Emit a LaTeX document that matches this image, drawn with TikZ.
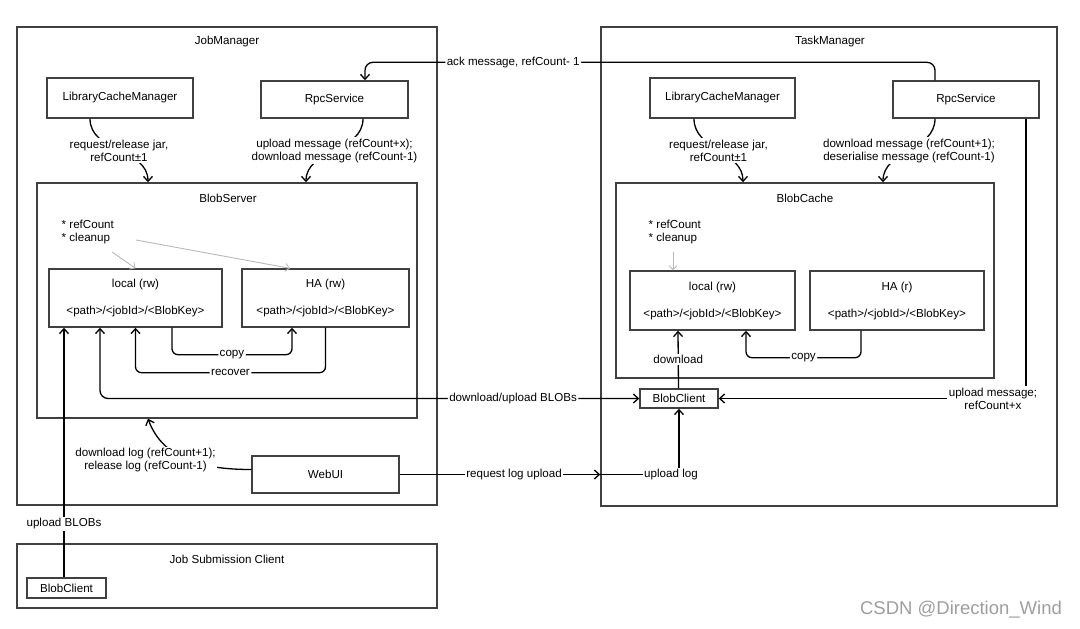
\documentclass[tikz,border=0pt]{standalone}
\usepackage{fontspec}
\setmainfont{Liberation Sans}
\usetikzlibrary{arrows.meta}
\definecolor{boxline}{rgb}{0.25,0.25,0.25}
\definecolor{hint}{rgb}{0.72,0.72,0.72}
\definecolor{wmark}{rgb}{0.62,0.62,0.62}
\newcommand{\lblfont}{\fontsize{11.6}{13}\selectfont}

\begin{document}
\begin{tikzpicture}[x=1pt, y=-1pt,
    >={Straight Barb[length=5pt,width=9pt]},
    box/.style={draw=boxline, line width=1.4pt, inner sep=0pt, align=center, font=\lblfont},
    txt/.style={font=\lblfont, align=center, inner sep=1.5pt},
    lbl/.style={txt, fill=white},
    conn/.style={line width=1.3pt, ->},
    hintarrow/.style={hint, line width=0.9pt, -{Straight Barb[length=4pt,width=8pt]}}] %blob
            \useasboundingbox (0,0) rectangle (1080,629);

            % containers
            \node[box, minimum width=420pt, minimum height=478pt] (jm) at (227,266) {};
            \node[txt] (jmtitle) at (227,42) {JobManager};
            \node[box, minimum width=456pt, minimum height=479pt] (tm) at (829,266.5) {};
            \node[txt] (tmtitle) at (830,42) {TaskManager};
            \node[box, minimum width=420pt, minimum height=64pt] (jsc) at (227,576) {};
            \node[txt] (jsctitle) at (227,559) {Job Submission Client};

            % JobManager
            \node[box, minimum width=146pt, minimum height=40pt] (jlcm) at (120,98) {LibraryCacheManager};
            \node[box, minimum width=147pt, minimum height=37pt] (jrpc) at (334.5,99.5) {RpcService};
            \node[box, minimum width=380pt, minimum height=235pt] (jblob) at (227,300.5) {};
            \node[txt] (jblobtitle) at (228,198) {BlobServer};
            \node[txt, anchor=west, align=left] (jref) at (60,232) {* refCount\\* cleanup};
            \node[box, minimum width=173pt, minimum height=58pt] (jlocal) at (135.5,298) {local (rw)\\[14pt]<path>/<jobId>/<BlobKey>};
            \node[box, minimum width=167pt, minimum height=58pt] (jha) at (325.5,298) {HA (rw)\\[14pt]<path>/<jobId>/<BlobKey>};
            \node[box, minimum width=147pt, minimum height=37pt] (jweb) at (325.5,474.5) {WebUI};

            % TaskManager
            \node[box, minimum width=145pt, minimum height=40pt] (tlcm) at (722.5,98) {LibraryCacheManager};
            \node[box, minimum width=146pt, minimum height=37pt] (trpc) at (966,99.5) {RpcService};
            \node[box, minimum width=378pt, minimum height=195pt] (tcache) at (805,280.5) {};
            \node[txt] (tcachetitle) at (805,198) {BlobCache};
            \node[txt, anchor=west, align=left] (tref) at (647,232) {* refCount\\* cleanup};
            \node[box, minimum width=165pt, minimum height=59pt] (tlocal) at (712.5,300.5) {local (rw)\\[14pt]<path>/<jobId>/<BlobKey>};
            \node[box, minimum width=174pt, minimum height=59pt] (tha) at (897,300.5) {HA (r)\\[14pt]<path>/<jobId>/<BlobKey>};
            \node[box, minimum width=78pt, minimum height=19pt] (tclient) at (679,398.5) {BlobClient};

            % Job Submission Client
            \node[box, minimum width=79pt, minimum height=20pt] (jsclient) at (66.5,588) {BlobClient};

            \node[font=\fontsize{18.5}{20}\selectfont, text=wmark, inner sep=0pt] (wm) at (961,610) {CSDN @Direction\_Wind};

            % calls
            \draw[conn] ([xshift=-30pt]jlcm.south) to[out=-90,in=90] node[lbl]{request/release jar,\\refCount±1} ([xshift=-79pt]jblob.north);
            \draw[conn] ([xshift=28.5pt]jrpc.south) to[out=-90,in=90] node[lbl]{upload message (refCount+x);\\download message (refCount-1)} ([xshift=79pt]jblob.north);
            \draw[conn] ([xshift=-28.5pt]tlcm.south) to[out=-90,in=90] node[lbl]{request/release jar,\\refCount±1} ([xshift=-62pt]tcache.north);
            \draw[conn] ([xshift=-31pt]trpc.south) to[out=-90,in=90] node[lbl]{download message (refCount+1);\\deserialise message (refCount-1)} ([xshift=78pt]tcache.north);
            \draw[conn, rounded corners=8pt] ([xshift=-31pt]trpc.north) -- ++(0,-18) -- node[lbl, pos=0.74]{ack message, refCount- 1} ++(-570,0) -- ([xshift=30.5pt]jrpc.north);

            % refCount / cleanup hints
            \coordinate (jh1) at (112,252);
            \coordinate (jh2) at (136,240);
            \coordinate (th1) at (673,252);
            \draw[hintarrow] (jh1) -- (jlocal.north);
            \draw[hintarrow] (jh2) -- ([xshift=-35.5pt]jha.north);
            \draw[hintarrow] (th1) -- ([xshift=-39.5pt]tlocal.north);

            % copy / recover
            \draw[conn, rounded corners=6pt] ([xshift=36.5pt]jlocal.south) -- ++(0,27) -- node[lbl]{copy} ++(120,0) -- ([xshift=-33.5pt]jha.south);
            \draw[conn, rounded corners=6pt] (jha.south) -- ++(0,45) -- node[lbl]{recover} ++(-190,0) -- (jlocal.south);
            \draw[conn, rounded corners=6pt] ([xshift=-36pt]tha.south) -- ++(0,27) -- node[lbl]{copy} ++(-115,0) -- ([xshift=33.5pt]tlocal.south);

            % BLOB transfers
            \draw[conn, <->, rounded corners=8pt] ([xshift=-35.5pt]jlocal.south) |- node[lbl, pos=0.883]{download/upload BLOBs} (tclient.west);
            \draw[conn] ([xshift=-2.5pt]jsclient.north) -- node[lbl, pos=0.215]{upload BLOBs} ([xshift=-71.5pt]jlocal.south);
            \draw[conn] ([xshift=-0.5pt]tclient.north) -- node[lbl]{download} ([xshift=-34.5pt]tlocal.south);
            \draw[conn] ([xshift=60pt]trpc.south) |- node[lbl, xshift=-33pt]{upload message;\\refCount+x} (tclient.east);

            % logs
            \coordinate (tin) at (jweb.east -| tm.west);
            \draw[conn] ([yshift=5pt]jweb.west) to[out=180,in=-70] node[lbl, xshift=-43pt]{download log (refCount+1);\\release log (refCount-1)} ([xshift=-79pt]jblob.south);
            \draw[conn] (jweb.east) -- node[lbl, pos=0.57]{request log upload} (tin);
            \draw[conn] (tin) -| node[lbl, xshift=-8pt]{upload log} (tclient.south);
        \end{tikzpicture}
\end{document}
